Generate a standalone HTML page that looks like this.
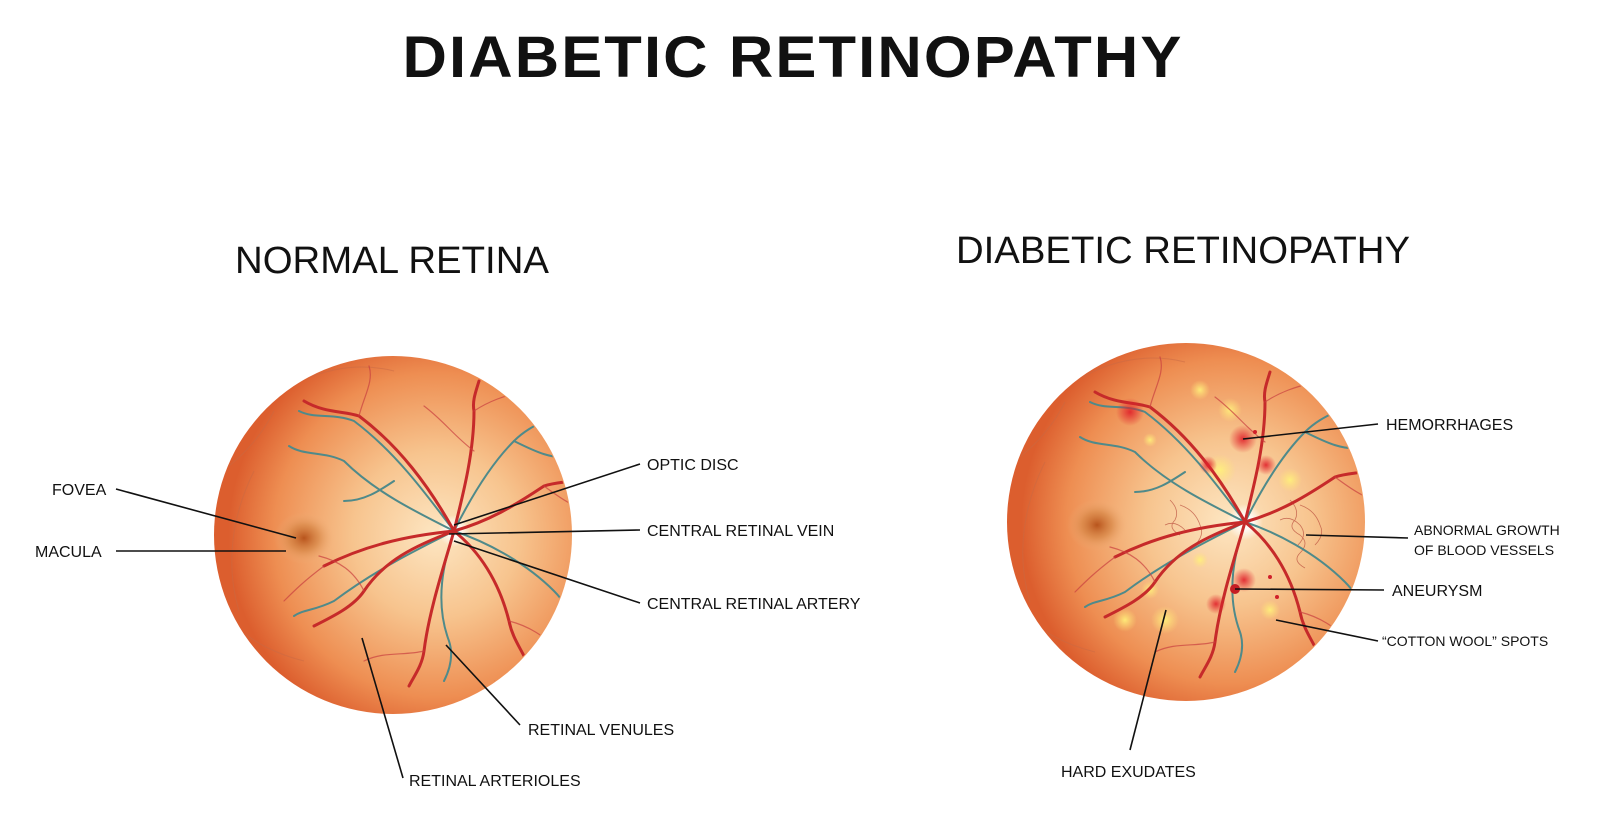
<!DOCTYPE html>
<html><head><meta charset="utf-8"><style>
html,body{margin:0;padding:0;background:#fff;}
svg{display:block;}
text{font-family:"Liberation Sans",sans-serif;fill:#111;}
</style></head><body>
<svg width="1600" height="822" viewBox="0 0 1600 822" xmlns="http://www.w3.org/2000/svg">
<defs>
<clipPath id="cl"><circle cx="393" cy="535" r="178"/></clipPath>
<clipPath id="cr"><circle cx="1186" cy="522" r="178"/></clipPath>
<radialGradient id="rg" cx="0.62" cy="0.5" r="0.58">
<stop offset="0" stop-color="#fde6c2"/>
<stop offset="0.4" stop-color="#f7c48e"/>
<stop offset="0.78" stop-color="#ee8e52"/>
<stop offset="1" stop-color="#dc5e2e"/>
</radialGradient>
<radialGradient id="fov"><stop offset="0" stop-color="#b8541c"/><stop offset="0.5" stop-color="#d68646" stop-opacity="0.7"/><stop offset="1" stop-color="#f0b07a" stop-opacity="0"/></radialGradient>
<radialGradient id="disc"><stop offset="0" stop-color="#fff"/><stop offset="0.4" stop-color="#fff" stop-opacity="0.9"/><stop offset="1" stop-color="#fff" stop-opacity="0"/></radialGradient>
<radialGradient id="hem"><stop offset="0" stop-color="#e0202a" stop-opacity="0.9"/><stop offset="1" stop-color="#e0202a" stop-opacity="0"/></radialGradient>
<radialGradient id="ex"><stop offset="0" stop-color="#fff27a"/><stop offset="1" stop-color="#ffe27a" stop-opacity="0"/></radialGradient>
<g id="faint" fill="none" stroke="#c86a45" stroke-width="1" opacity="0.5">
<path d="M-200,-60 C-220,-20 -230,30 -215,80"/>
<path d="M-180,-120 C-200,-80 -230,-60 -260,-40"/>
<path d="M-150,130 C-190,120 -220,100 -240,70"/>
<path d="M40,150 C80,150 100,130 110,100"/>
<path d="M-60,-160 C-100,-170 -140,-160 -170,-140"/>
</g>
<g id="vessels" fill="none" stroke-linecap="round">
<g stroke="#4f8a8a" stroke-width="2">
<path d="M0,0 C-30,-40 -60,-80 -100,-110 C-120,-118 -140,-112 -155,-120"/>
<path d="M0,0 C-40,-20 -80,-40 -110,-70 C-130,-80 -150,-75 -165,-85"/>
<path d="M0,0 C20,-40 40,-70 60,-90 C70,-100 80,-105 90,-110"/>
<path d="M0,0 C30,10 70,30 100,60 C110,70 115,80 120,90"/>
<path d="M0,0 C-10,30 -20,70 -5,110 C0,125 -5,140 -10,150"/>
<path d="M0,0 C-40,20 -80,40 -120,70 C-140,80 -150,78 -160,85"/>
<path d="M-60,-50 C-75,-40 -90,-30 -110,-30"/>
<path d="M60,-90 C80,-80 100,-70 120,-75"/>
</g>
<g stroke="#c62a2a" stroke-width="3">
<path d="M0,0 C-25,-45 -55,-85 -95,-115 C-110,-120 -130,-118 -150,-130"/>
<path d="M0,0 C10,-40 20,-80 20,-120 C18,-130 22,-140 25,-150"/>
<path d="M0,0 C35,-10 60,-25 90,-45 C105,-50 120,-48 135,-55"/>
<path d="M0,0 C-10,35 -25,80 -30,120 C-32,135 -40,145 -45,155"/>
<path d="M0,0 C-40,15 -70,30 -90,60 C-100,75 -120,85 -140,95"/>
<path d="M0,0 C25,20 45,50 55,90 C58,105 65,115 70,125"/>
<path d="M0,0 C-50,5 -90,15 -130,35"/>
</g>
<g stroke="#c94040" stroke-width="1.2" opacity="0.7">
<path d="M-95,-115 C-90,-135 -80,-150 -85,-165"/>
<path d="M20,-120 C35,-130 50,-135 70,-140"/>
<path d="M90,-45 C110,-30 125,-20 145,-20"/>
<path d="M-30,120 C-50,125 -70,120 -90,130"/>
<path d="M55,90 C75,95 90,105 105,120"/>
<path d="M-90,60 C-100,40 -115,30 -135,25"/>
<path d="M-130,35 C-150,50 -160,60 -170,70"/>
<path d="M20,-80 C0,-95 -10,-110 -30,-125"/>
</g>
</g>
</defs>

<text x="793" y="77" text-anchor="middle" font-size="58" font-weight="bold" textLength="781" lengthAdjust="spacingAndGlyphs" letter-spacing="2">DIABETIC RETINOPATHY</text>
<text x="235" y="273" font-size="38" textLength="314" lengthAdjust="spacingAndGlyphs">NORMAL RETINA</text>
<text x="956" y="263" font-size="38" textLength="454" lengthAdjust="spacingAndGlyphs">DIABETIC RETINOPATHY</text>

<!-- left retina -->
<circle cx="393" cy="535" r="179" fill="url(#rg)"/>
<g clip-path="url(#cl)">
<use href="#faint" transform="translate(454,531)"/>
<ellipse cx="304" cy="538" rx="30" ry="26" fill="url(#fov)"/>
<circle cx="454" cy="531" r="16" fill="url(#disc)"/>
<use href="#vessels" transform="translate(454,531)"/>
</g>

<!-- right retina -->
<circle cx="1186" cy="522" r="179" fill="url(#rg)"/>
<g clip-path="url(#cr)">
<use href="#faint" transform="translate(1245,522)"/>
<ellipse cx="1097" cy="525" rx="30" ry="26" fill="url(#fov)"/>
<circle cx="1245" cy="522" r="18" fill="url(#disc)"/>
<g opacity="0.9">
<circle cx="1200" cy="390" r="10" fill="url(#ex)"/><circle cx="1230" cy="410" r="12" fill="url(#ex)"/>
<circle cx="1290" cy="480" r="12" fill="url(#ex)"/><circle cx="1125" cy="620" r="12" fill="url(#ex)"/>
<circle cx="1165" cy="620" r="14" fill="url(#ex)"/><circle cx="1150" cy="590" r="9" fill="url(#ex)"/>
<circle cx="1220" cy="470" r="16" fill="url(#ex)"/><circle cx="1270" cy="610" r="10" fill="url(#ex)"/>
<circle cx="1150" cy="440" r="7" fill="url(#ex)"/><circle cx="1200" cy="560" r="8" fill="url(#ex)"/>
</g>
<g fill="none" stroke="#b84a3a" stroke-width="0.8" opacity="0.7">
<path d="M1290,500 q10,10 5,20 q-8,8 5,15 q10,8 0,18 q-8,8 5,15 M1300,505 q15,5 20,20 q5,10 -5,20 M1280,520 q10,-5 20,5 q8,10 -2,20"/>
<path d="M1170,500 q10,10 5,20 q-8,8 5,15 M1180,505 q15,5 20,20 q5,10 -5,20 M1165,525 q10,-5 20,5"/>
</g>
<use href="#vessels" transform="translate(1245,522)"/>
<g>
<circle cx="1243" cy="439" r="14" fill="url(#hem)"/><circle cx="1130" cy="412" r="14" fill="url(#hem)"/>
<circle cx="1266" cy="465" r="10" fill="url(#hem)"/><circle cx="1208" cy="465" r="9" fill="url(#hem)"/>
<circle cx="1244" cy="580" r="12" fill="url(#hem)"/><circle cx="1216" cy="604" r="10" fill="url(#hem)"/>
<circle cx="1235" cy="589" r="5" fill="#c41e24"/>
<circle cx="1270" cy="577" r="2" fill="#d0202a"/><circle cx="1277" cy="597" r="2" fill="#d0202a"/><circle cx="1255" cy="432" r="2" fill="#d0202a"/>
</g>
</g>

<!-- leader lines -->
<g stroke="#111" stroke-width="1.6">
<line x1="116" y1="489" x2="296" y2="538"/>
<line x1="116" y1="551" x2="286" y2="551"/>
<line x1="640" y1="464" x2="454" y2="525"/>
<line x1="640" y1="530" x2="449" y2="534"/>
<line x1="640" y1="603" x2="454" y2="541"/>
<line x1="520" y1="725" x2="446" y2="645"/>
<line x1="403" y1="778" x2="362" y2="638"/>
<line x1="1378" y1="424" x2="1243" y2="439"/>
<line x1="1408" y1="538" x2="1306" y2="535"/>
<line x1="1384" y1="590" x2="1235" y2="589"/>
<line x1="1378" y1="641" x2="1276" y2="620"/>
<line x1="1130" y1="750" x2="1166" y2="610"/>
</g>

<g font-size="16">
<text x="52" y="495">FOVEA</text>
<text x="35" y="557">MACULA</text>
<text x="647" y="470">OPTIC DISC</text>
<text x="647" y="536">CENTRAL RETINAL VEIN</text>
<text x="647" y="609">CENTRAL RETINAL ARTERY</text>
<text x="528" y="735">RETINAL VENULES</text>
<text x="409" y="786">RETINAL ARTERIOLES</text>
<text x="1386" y="430">HEMORRHAGES</text>
<text x="1392" y="596">ANEURYSM</text>
<text x="1061" y="777">HARD EXUDATES</text>
</g>
<g font-size="14">
<text x="1414" y="535">ABNORMAL GROWTH</text>
<text x="1414" y="555">OF BLOOD VESSELS</text>
<text x="1382" y="646">“COTTON WOOL” SPOTS</text>
</g>
</svg>
</body></html>
